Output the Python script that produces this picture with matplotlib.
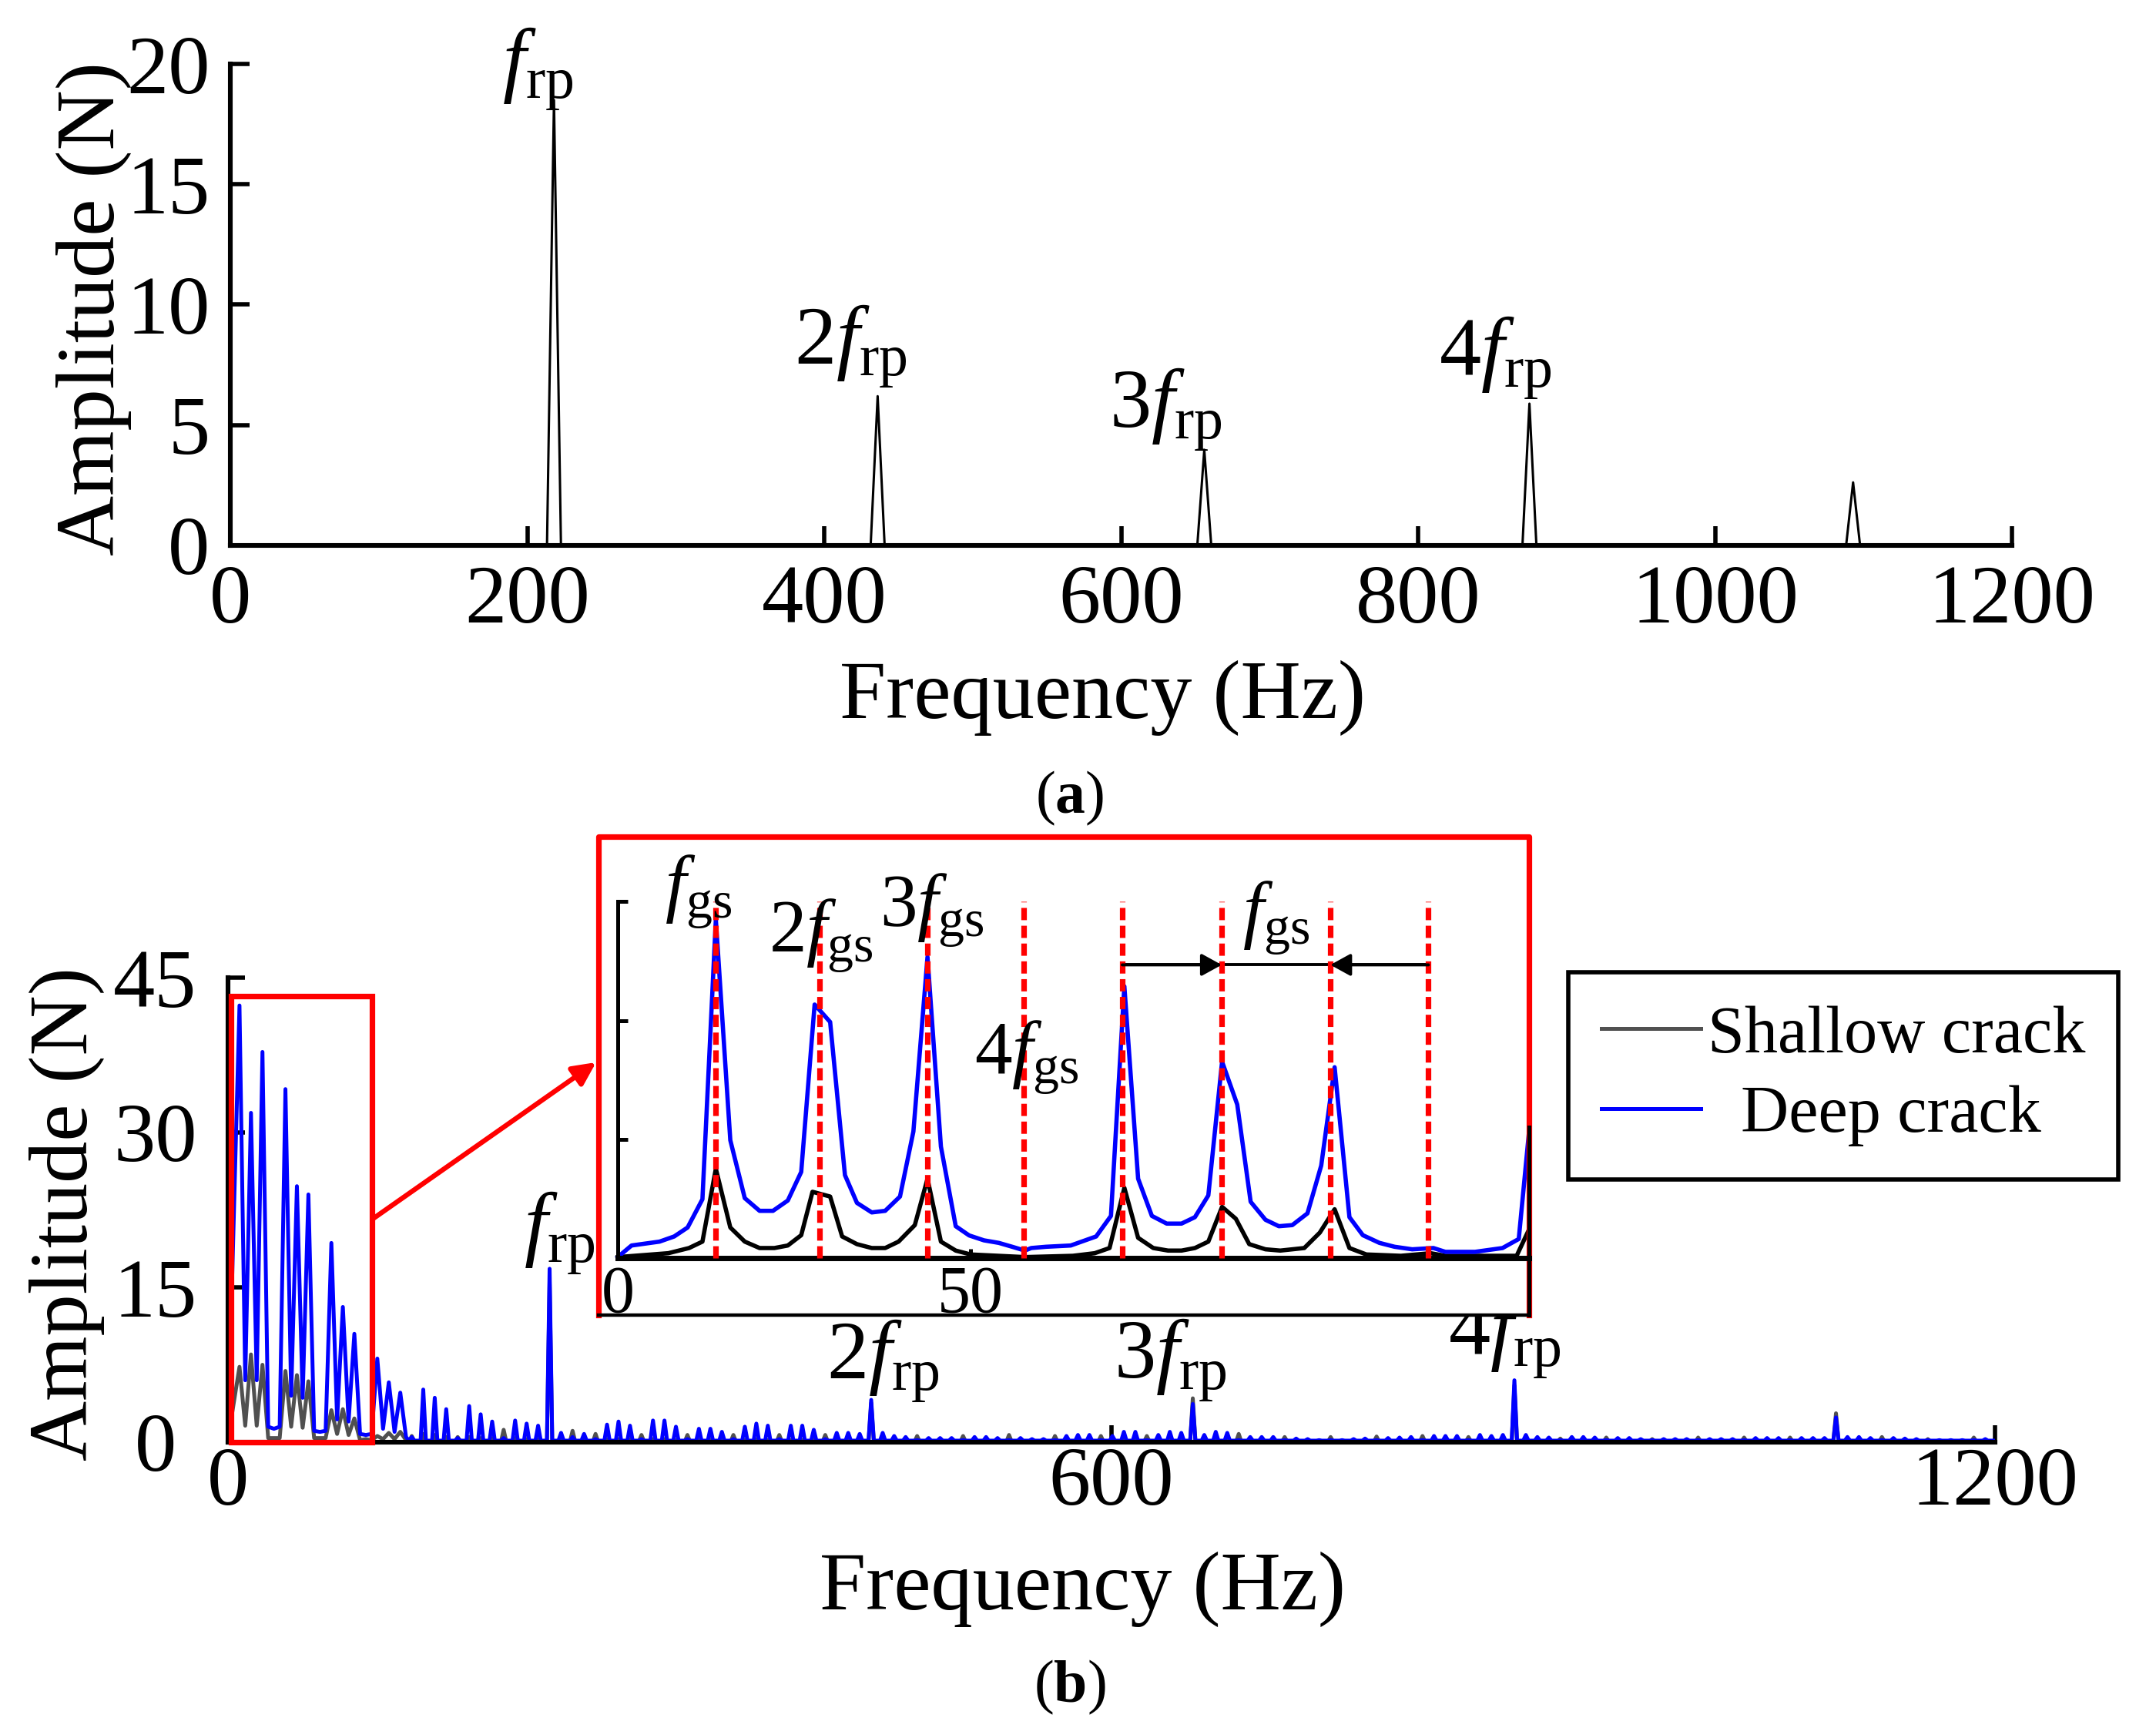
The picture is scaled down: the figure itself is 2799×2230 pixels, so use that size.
import matplotlib
matplotlib.use('Agg')
import matplotlib.pyplot as plt
from matplotlib.patches import Rectangle

plt.rcParams['font.family'] = 'Liberation Serif'
plt.rcParams['mathtext.fontset'] = 'custom'
plt.rcParams['mathtext.rm'] = 'Liberation Serif'
plt.rcParams['mathtext.it'] = 'Liberation Serif:italic'
plt.rcParams['mathtext.bf'] = 'Liberation Serif:bold'

# ---- (a) spectrum: harmonic peaks of f_rp
top_peak_freq = [218, 436, 656, 875, 1093]
top_peak_amp = [18.5, 6.2, 3.97, 5.89, 2.62]
top_labels = [r'$f_{\mathrm{rp}}$', r'$2f_{\mathrm{rp}}$', r'$3f_{\mathrm{rp}}$', r'$4f_{\mathrm{rp}}$']
top_label_x = [207, 418, 630, 852]
top_label_y = [19.8, 8.3, 5.65, 7.8]

# ---- (b) spectrum: spectral lines every 7.8 Hz (k = 1..153)
line_spacing = 7.8
deep_peaks = [
    42.3, 31.9, 37.8, 1.3, 34.2, 24.8, 24.0, 1.0, 19.3, 13.1,
    10.5, 0.7, 8.1, 5.8, 4.8, 0.5, 5.1, 4.3, 3.2, 0.4,
    3.5, 2.7, 2.0, 0.4, 2.1, 1.8, 1.6, 16.8, 0.9, 0.5,
    0.8, 0.3, 1.7, 2.0, 1.6, 0.3, 2.1, 2.1, 1.5, 0.3,
    1.3, 1.3, 1.0, 0.3, 1.5, 1.8, 1.6, 0.3, 1.6, 1.6,
    1.2, 0.3, 0.9, 0.9, 0.8, 4.1, 0.9, 0.6, 0.5, 0.2,
    0.4, 0.4, 0.4, 0.2, 0.5, 0.5, 0.4, 0.2, 0.4, 0.3,
    0.3, 0.2, 0.6, 0.7, 0.7, 0.2, 0.6, 1.0, 1.0, 0.2,
    0.7, 1.0, 0.9, 3.7, 0.7, 1.0, 0.9, 0.2, 0.5, 0.5,
    0.5, 0.2, 0.35, 0.3, 0.2, 0.2, 0.2, 0.3, 0.35, 0.2,
    0.4, 0.45, 0.5, 0.2, 0.6, 0.6, 0.6, 0.2, 0.7, 0.6,
    0.7, 6.0, 0.7, 0.5, 0.45, 0.2, 0.5, 0.5, 0.45, 0.2,
    0.4, 0.4, 0.3, 0.2, 0.3, 0.3, 0.3, 0.2, 0.3, 0.3,
    0.3, 0.2, 0.4, 0.4, 0.4, 0.2, 0.4, 0.4, 0.4, 2.4,
    0.5, 0.5, 0.4, 0.2, 0.4, 0.35, 0.3, 0.2, 0.2, 0.2,
    0.2, 0.2, 0.3]
shallow_peaks = [
    7.3, 8.5, 7.5, 0.4, 6.9, 6.5, 5.9, 0.4, 3.1, 3.2,
    2.3, 0.3, 0.6, 0.9, 1.0, 0.6, 0.8, 0.7, 0.5, 0.5,
    0.5, 0.4, 0.4, 1.2, 0.4, 0.3, 0.3, 15.5, 0.3, 1.1,
    0.2, 0.8, 0.3, 0.3, 0.3, 0.7, 0.3, 0.3, 0.2, 0.7,
    0.2, 0.2, 0.2, 0.7, 0.2, 0.3, 0.2, 0.7, 0.2, 0.2,
    0.2, 0.7, 0.2, 0.2, 0.2, 3.8, 0.2, 0.2, 0.2, 0.6,
    0.1, 0.1, 0.1, 0.6, 0.1, 0.1, 0.1, 0.7, 0.1, 0.1,
    0.1, 0.6, 0.2, 0.2, 0.2, 0.6, 0.2, 0.2, 0.2, 0.6,
    0.2, 0.2, 0.2, 4.25, 0.2, 0.2, 0.2, 0.8, 0.1, 0.1,
    0.1, 0.5, 0.1, 0.1, 0.1, 0.5, 0.1, 0.1, 0.1, 0.55,
    0.1, 0.1, 0.1, 0.6, 0.1, 0.1, 0.1, 0.5, 0.1, 0.1,
    0.1, 5.5, 0.1, 0.1, 0.1, 0.35, 0.1, 0.1, 0.1, 0.45,
    0.1, 0.1, 0.1, 0.3, 0.1, 0.1, 0.1, 0.45, 0.1, 0.1,
    0.1, 0.45, 0.1, 0.1, 0.1, 0.45, 0.1, 0.1, 0.1, 2.8,
    0.1, 0.1, 0.1, 0.5, 0.1, 0.1, 0.1, 0.3, 0.1, 0.1,
    0.1, 0.45, 0.1]
# minima between neighbouring lines in the low band (index i = between line i and i+1)
deep_valleys = [1.0, 6.0, 6.0, 1.5, 1.5, 4.5, 4.3, 1.1, 1.1, 2.2, 2.0, 0.8, 0.8, 1.3, 1.0, 0.5]
shallow_valleys = [0.3, 1.6, 1.6, 0.4, 0.4, 1.5, 1.4, 0.4, 0.4, 0.8, 0.7, 0.2, 0.2, 0.3, 0.3, 0.2]
deep_floor = 0.15
shallow_floor = 0.05

bot_labels = [r'$f_{\mathrm{rp}}$', r'$2f_{\mathrm{rp}}$', r'$3f_{\mathrm{rp}}$', r'$4f_{\mathrm{rp}}$']
bot_label_x = [225, 445, 640, 867]
bot_label_y = [20.3, 7.9, 8.0, 10.2]

# ---- zoomed view (inset)
inset_deep_x = [0, 1.95, 5.92, 8.0, 9.9, 12.0, 13.9, 15.95, 18.0, 20.1, 22.0, 24.1, 26.0, 27.9,
                30.1, 32.2, 33.9, 36.0, 37.9, 40.0, 41.9, 43.9, 45.8, 47.9, 49.8, 51.9, 54.0,
                55.9, 57.7, 58.6, 60.7, 64.2, 67.8, 69.9, 71.8, 73.75, 75.7, 77.8, 79.9, 81.8,
                83.7, 85.65, 87.8, 89.7, 91.8, 93.7, 95.6, 97.75, 99.7, 101.6, 103.7, 105.6,
                107.95, 110.1, 112.6, 115.6, 117.3, 121.5, 125.4, 127.7, 129.2]
inset_deep_y = [0.17, 1.63, 2.12, 2.77, 3.9, 7.46, 42.7, 14.9, 7.6, 6.0, 6.0, 7.3, 10.9, 32.0,
                29.8, 10.5, 7.0, 5.8, 6.0, 7.8, 16.0, 38.0, 14.1, 4.06, 2.9, 2.28, 1.96,
                1.47, 0.99, 1.31, 1.47, 1.63, 2.77, 5.36, 34.3, 10.05, 5.36, 4.39, 4.39, 5.2,
                7.94, 24.8, 19.4, 7.14, 4.87, 4.06, 4.2, 5.68, 11.7, 24.1, 5.2, 2.93,
                1.96, 1.47, 1.15, 1.31, 0.83, 0.83, 1.31, 2.45, 16.4]
inset_shallow_x = [0, 7.17, 10.1, 12.0, 13.9, 15.95, 18.0, 20.1, 22.2, 24.1, 26.0, 27.6, 30.1,
                   31.8, 33.9, 36.0, 37.9, 39.8, 42.1, 43.9, 45.8, 47.9, 50.0, 57.7, 64.5,
                   67.6, 69.7, 71.8, 73.75, 75.9, 78.0, 79.9, 81.8, 83.7, 85.65, 87.6, 89.5,
                   91.8, 93.9, 97.3, 99.5, 101.6, 103.7, 106.1, 111.0, 115.2, 117.3, 127.4, 129.2]
inset_shallow_y = [0.17, 0.66, 1.31, 2.12, 11.3, 3.9, 2.12, 1.31, 1.31, 1.63, 2.93, 8.4, 7.8,
                   2.77, 1.8, 1.31, 1.31, 2.12, 4.2, 10.05, 2.12, 0.99, 0.5, 0.17, 0.33,
                   0.66, 1.31, 8.9, 2.6, 1.31, 0.99, 0.99, 1.31, 2.12, 6.5, 5.0, 1.8,
                   1.15, 0.99, 1.31, 3.25, 6.2, 1.31, 0.5, 0.33, 0.66, 0.33, 0.33, 3.74]
inset_marks = [13.9, 28.6, 43.9, 57.5, 71.5, 85.6, 101.0, 114.9]
inset_labels = [r'$f_{\mathrm{gs}}$', r'$2f_{\mathrm{gs}}$', r'$3f_{\mathrm{gs}}$',
                r'$4f_{\mathrm{gs}}$', r'$f_{\mathrm{gs}}$']
inset_label_x = [11.4, 28.8, 44.5, 57.9, 93.3]
inset_label_y = [46.3, 40.7, 43.9, 25.4, 43.0]

GRAY = '#505050'
W, H = 2799, 2230


def fx(px):
    return px / W


def fy(py):
    return 1 - py / H


def spectrum_line(peaks, valleys, floor, half=1.8):
    # low band: peak -> minimum half way to the next line; above it: narrow spikes on the floor
    xs, ys = [0.0], [valleys[0]]
    for k, h in enumerate(peaks, start=1):
        f = k * line_spacing
        if k < len(valleys):
            xs += [f, f + line_spacing / 2]
            ys += [h, valleys[k]]
        else:
            xs += [f - half, f, f + half]
            ys += [floor, h, floor]
    xs.append(1200)
    ys.append(floor)
    return xs, ys


fig = plt.figure(figsize=(W / 200, H / 200), dpi=200)

# ---------------- (a)
ax_a = fig.add_axes([fx(299), fy(708), (2612 - 299) / W, (708 - 83) / H])
tx, ty = [0], [0]
for f, a in zip(top_peak_freq, top_peak_amp):
    tx += [f - 4.7, f, f + 4.7]
    ty += [0, a, 0]
tx.append(1200)
ty.append(0)
ax_a.plot(tx, ty, color='k', lw=1.1)
ax_a.set_xlim(0, 1200)
ax_a.set_ylim(0, 20)
ax_a.set_xticks(range(0, 1201, 200))
ax_a.set_yticks(range(0, 21, 5))
for s in ['top', 'right']:
    ax_a.spines[s].set_visible(False)
for s in ['left', 'bottom']:
    ax_a.spines[s].set_linewidth(2.2)
ax_a.tick_params(direction='in', length=9, width=2.0, labelsize=39)
ax_a.tick_params(axis='y', pad=9.5)
ax_a.tick_params(axis='x', pad=9)
for lab, x, y in zip(top_labels, top_label_x, top_label_y):
    ax_a.text(x, y, lab, fontsize=39, ha='center', va='center')

fig.text(fx(122), fy(401), 'Amplitude (N)', rotation=90, fontsize=39, ha='center', va='center')
fig.text(fx(1431), fy(906), 'Frequency (Hz)', fontsize=39, ha='center', va='center')
fig.text(fx(1389), fy(1036), r'($\mathbf{a}$)', fontsize=28, ha='center', va='center')

# ---------------- (b)
ax_b = fig.add_axes([fx(296), fy(1872), 2294 / W, 603 / H])
sx, sy = spectrum_line(shallow_peaks, shallow_valleys, shallow_floor)
dx, dy = spectrum_line(deep_peaks, deep_valleys, deep_floor)
l_sh, = ax_b.plot(sx, sy, color=GRAY, lw=1.8, label='Shallow crack')
l_dp, = ax_b.plot(dx, dy, color='blue', lw=1.8, label='Deep crack')
ax_b.set_xlim(0, 1200)
ax_b.set_ylim(0, 45)
ax_b.set_xticks([0, 600, 1200])
ax_b.set_yticks([0, 15, 30, 45])
for s in ['top', 'right']:
    ax_b.spines[s].set_visible(False)
for s in ['left', 'bottom']:
    ax_b.spines[s].set_linewidth(2.2)
ax_b.tick_params(direction='in', length=8, width=2.0, labelsize=39)
ax_b.tick_params(axis='y', pad=34)
ax_b.tick_params(axis='x', pad=2)
for t in ax_b.get_yticklabels():
    t.set_horizontalalignment('center')
for lab, x, y in zip(bot_labels, bot_label_x, bot_label_y):
    ax_b.text(x, y, lab, fontsize=39, ha='center', va='center')
ax_b.add_patch(Rectangle((2, 0), 95.8, 43.2, fill=False, ec='red', lw=2.6, zorder=4, clip_on=False))
ax_b.annotate('', xy=(250, 36.8), xytext=(99, 21.7),
              arrowprops=dict(arrowstyle='-|>,head_length=0.45,head_width=0.22', color='red',
                              lw=2.3, mutation_scale=20, shrinkA=0, shrinkB=0))

fig.text(fx(87), fy(1576), 'Amplitude (N)', rotation=90, fontsize=39, ha='center', va='center')
fig.text(fx(1406), fy(2063), 'Frequency (Hz)', fontsize=39, ha='center', va='center')
fig.text(fx(1389), fy(2190), r'($\mathbf{b}$)', fontsize=28, ha='center', va='center')

# ---------------- inset
ax_in = fig.add_axes([fx(777), fy(1707), 1208 / W, 621 / H])
ax_in.set_facecolor('white')
ax_in.plot(inset_shallow_x, inset_shallow_y, color='k', lw=2.0)
ax_in.plot(inset_deep_x, inset_deep_y, color='blue', lw=2.0)
ax_in.vlines(inset_marks, 0, 45, colors='red', linestyles=(0, (2.2, 1.0)), lw=2.6, zorder=3)
ax_in.set_xlim(-2.73, 129.15)
ax_in.set_ylim(-7.14, 53.16)
ax_in.spines['left'].set_position(('data', 0))
ax_in.spines['left'].set_bounds(0, 45)
ax_in.spines['left'].set_linewidth(1.8)
ax_in.spines['bottom'].set_position(('data', 0))
ax_in.spines['bottom'].set_bounds(0, 129.15)
ax_in.spines['bottom'].set_linewidth(2.5)
ax_in.spines['top'].set_visible(False)
ax_in.spines['right'].set_visible(False)
ax_in.set_yticks([0, 15, 30, 45])
ax_in.set_yticklabels([])
ax_in.set_xticks([0, 50])
ax_in.tick_params(direction='in', length=4.5, width=1.8, labelsize=31, pad=3)
ax_in.plot([0, 0, 1, 1], [0, 1, 1, 0], transform=ax_in.transAxes, color='red', lw=2.6, clip_on=False)
ax_in.plot([0, 1], [0, 0], transform=ax_in.transAxes, color='k', lw=1.6, clip_on=False)
ax_in.plot([1, 1], [0, 0.393], transform=ax_in.transAxes, color='k', lw=1.8, clip_on=False)
ax_in.plot([inset_marks[4], inset_marks[7]], [37.0, 37.0], color='k', lw=1.4)
ax_in.annotate('', xy=(inset_marks[5], 37.0), xytext=(inset_marks[4], 37.0),
               arrowprops=dict(arrowstyle='-|>,head_length=0.4,head_width=0.22', color='k',
                               lw=1.4, mutation_scale=20, shrinkA=0, shrinkB=0))
ax_in.annotate('', xy=(inset_marks[6], 37.0), xytext=(inset_marks[7], 37.0),
               arrowprops=dict(arrowstyle='-|>,head_length=0.4,head_width=0.22', color='k',
                               lw=1.4, mutation_scale=20, shrinkA=0, shrinkB=0))
for lab, x, y in zip(inset_labels, inset_label_x, inset_label_y):
    ax_in.text(x, y, lab, fontsize=35, ha='center', va='center')

# ---------------- legend
leg = fig.legend([l_sh, l_dp], ['Shallow crack', '  Deep crack'], loc='upper left',
                 bbox_to_anchor=(fx(2036), fy(1262)), borderaxespad=0, fontsize=31,
                 handlelength=1.5, handletextpad=0.1, borderpad=0.5, labelspacing=0.28,
                 fancybox=False, framealpha=1, edgecolor='k')
leg.get_frame().set_linewidth(2.0)

fig.savefig('out.png', dpi=200)
